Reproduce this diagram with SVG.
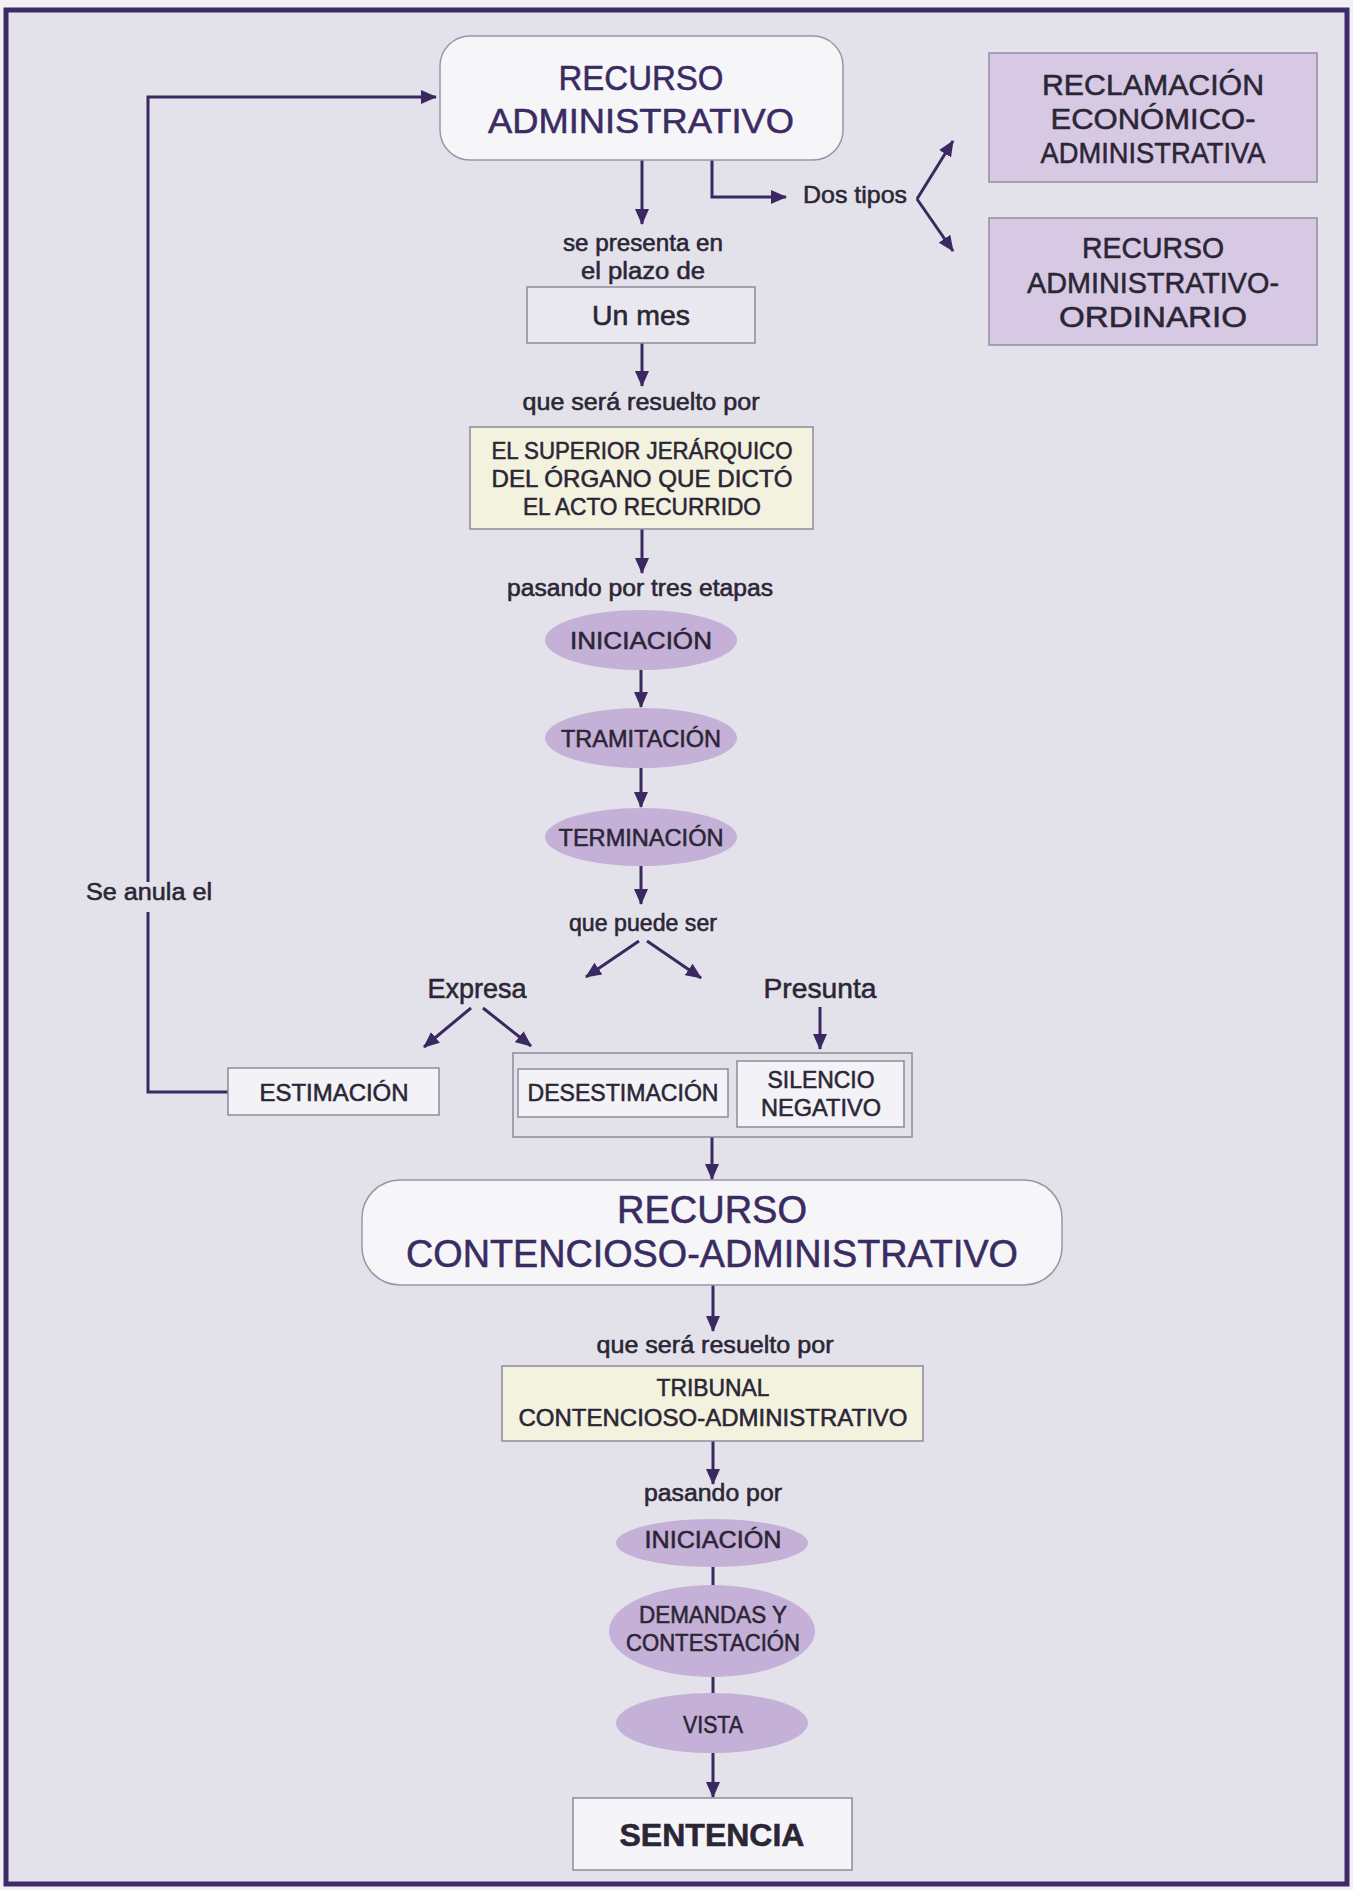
<svg xmlns="http://www.w3.org/2000/svg" width="1353" height="1890" viewBox="0 0 1353 1890">
  <defs>
    <marker id="ah" viewBox="0 0 16 14" refX="15" refY="7" markerWidth="16" markerHeight="14" markerUnits="userSpaceOnUse" orient="auto">
      <path d="M0,0 L16,7 L0,14 z" fill="#3a2960"/>
    </marker>
    <style>
      .t { font-family: "Liberation Sans", Arial, sans-serif; fill: #2b2636; stroke: #2b2636; stroke-width: 0.55; text-anchor: middle; }
      .big { fill: #3a2b62; stroke: #3a2b62; font-size: 35px; }
      .lbl { font-size: 23px; }
      .cap { font-size: 24px; }
      .pt { font-size: 30px; }
      .pbox { fill: #d7c9e3; stroke: #958ba2; stroke-width: 1.5; }
      .wbox { fill: #f3f2f6; stroke: #8f8a99; stroke-width: 1.5; }
      .ybox { fill: #f3f2df; stroke: #8f8a99; stroke-width: 1.5; }
      .gbox { fill: none; stroke: #8f8a99; stroke-width: 1.5; }
      .ell { fill: #c5b0d7; }
      .ln { fill: none; stroke: #3a2960; stroke-width: 3; }
      .arr { fill: none; stroke: #3a2960; stroke-width: 3; marker-end: url(#ah); }
    </style>
  </defs>

  <!-- page and frame -->
  <rect x="0" y="0" width="1353" height="1890" fill="#f1f1f4"/>
  <rect x="6" y="10" width="1341" height="1874" fill="#e3e2ea" stroke="#3d2b69" stroke-width="5"/>

  <!-- connectors -->
  <g id="connectors">
    <!-- annulment loop back to the administrative appeal -->
    <path class="ln" d="M228,1092 H148 V912"/>
    <path class="arr" d="M148,882 V97 H436"/>
    <!-- two types -->
    <path class="arr" d="M712,160 V197 H786"/>
    <path class="arr" d="M917,199 L953,141"/>
    <path class="arr" d="M917,199 L953,251"/>
    <!-- main column -->
    <path class="arr" d="M642,160 V224"/>
    <path class="arr" d="M642,343 V386"/>
    <path class="arr" d="M642,529 V573"/>
    <path class="arr" d="M641,670 V707"/>
    <path class="arr" d="M641,768 V807"/>
    <path class="arr" d="M641,866 V904"/>
    <path class="arr" d="M639,941 L586,977"/>
    <path class="arr" d="M647,941 L701,978"/>
    <path class="arr" d="M471,1008 L424,1047"/>
    <path class="arr" d="M483,1008 L531,1046"/>
    <path class="arr" d="M820,1007 V1049"/>
    <path class="arr" d="M712,1137 V1179"/>
    <path class="arr" d="M713,1285 V1331"/>
    <path class="arr" d="M713,1441 V1484"/>
    <path class="ln" d="M713,1567 V1586"/>
    <path class="ln" d="M713,1677 V1694"/>
    <path class="arr" d="M713,1753 V1797"/>
  </g>

  <!-- labels on connectors -->
  <g id="labels">
    <text class="t lbl" x="855" y="203" style="font-size:24px" textLength="104" lengthAdjust="spacingAndGlyphs">Dos tipos</text>
    <text class="t lbl" x="643" y="251" textLength="160" lengthAdjust="spacingAndGlyphs">se presenta en</text>
    <text class="t lbl" x="643" y="279" textLength="124" lengthAdjust="spacingAndGlyphs">el plazo de</text>
    <text class="t lbl" x="641" y="410" textLength="237" lengthAdjust="spacingAndGlyphs">que será resuelto por</text>
    <text class="t lbl" x="640" y="596" textLength="266" lengthAdjust="spacingAndGlyphs">pasando por tres etapas</text>
    <text class="t lbl" x="643" y="931" textLength="148" lengthAdjust="spacingAndGlyphs">que puede ser</text>
    <text class="t lbl" x="477" y="998" style="font-size:28px" textLength="99" lengthAdjust="spacingAndGlyphs">Expresa</text>
    <text class="t lbl" x="820" y="998" style="font-size:28px" textLength="113" lengthAdjust="spacingAndGlyphs">Presunta</text>
    <text class="t lbl" x="149" y="900" textLength="126" lengthAdjust="spacingAndGlyphs">Se anula el</text>
    <text class="t lbl" x="715" y="1353" textLength="237" lengthAdjust="spacingAndGlyphs">que será resuelto por</text>
    <text class="t lbl" x="713" y="1501" textLength="138" lengthAdjust="spacingAndGlyphs">pasando por</text>
  </g>

  <g id="recurso-administrativo">
    <rect x="440" y="36" width="403" height="124" rx="30" fill="#f6f6f9" stroke="#9a95a6" stroke-width="1.5"/>
    <text class="t big" x="641" y="90" textLength="165" lengthAdjust="spacingAndGlyphs">RECURSO</text>
    <text class="t big" x="641" y="133" textLength="306" lengthAdjust="spacingAndGlyphs">ADMINISTRATIVO</text>
  </g>

  <g id="reclamacion-economico-administrativa">
    <rect class="pbox" x="989" y="53" width="328" height="129"/>
    <text class="t pt" x="1153" y="95" textLength="222" lengthAdjust="spacingAndGlyphs">RECLAMACIÓN</text>
    <text class="t pt" x="1153" y="129" textLength="205" lengthAdjust="spacingAndGlyphs">ECONÓMICO-</text>
    <text class="t pt" x="1153" y="163" textLength="225" lengthAdjust="spacingAndGlyphs">ADMINISTRATIVA</text>
  </g>

  <g id="recurso-administrativo-ordinario">
    <rect class="pbox" x="989" y="218" width="328" height="127"/>
    <text class="t pt" x="1153" y="258" textLength="142" lengthAdjust="spacingAndGlyphs">RECURSO</text>
    <text class="t pt" x="1153" y="293" textLength="252" lengthAdjust="spacingAndGlyphs">ADMINISTRATIVO-</text>
    <text class="t pt" x="1153" y="327" textLength="188" lengthAdjust="spacingAndGlyphs">ORDINARIO</text>
  </g>

  <g id="un-mes">
    <rect x="527" y="287" width="228" height="56" fill="#eae8ef" stroke="#8f8a99" stroke-width="1.5"/>
    <text class="t" x="641" y="325" font-size="28" textLength="98" lengthAdjust="spacingAndGlyphs">Un mes</text>
  </g>

  <g id="superior-jerarquico">
    <rect class="ybox" x="470" y="427" width="343" height="102"/>
    <text class="t cap" x="642" y="459" textLength="301" lengthAdjust="spacingAndGlyphs">EL SUPERIOR JERÁRQUICO</text>
    <text class="t cap" x="642" y="487" textLength="301" lengthAdjust="spacingAndGlyphs">DEL ÓRGANO QUE DICTÓ</text>
    <text class="t cap" x="642" y="515" textLength="238" lengthAdjust="spacingAndGlyphs">EL ACTO RECURRIDO</text>
  </g>

  <g id="iniciacion-1">
    <ellipse class="ell" cx="641" cy="640" rx="96" ry="30"/>
    <text class="t cap" x="641" y="649" textLength="142" lengthAdjust="spacingAndGlyphs">INICIACIÓN</text>
  </g>
  <g id="tramitacion">
    <ellipse class="ell" cx="641" cy="738" rx="96" ry="30"/>
    <text class="t cap" x="641" y="747" textLength="160" lengthAdjust="spacingAndGlyphs">TRAMITACIÓN</text>
  </g>
  <g id="terminacion">
    <ellipse class="ell" cx="641" cy="837" rx="96" ry="29"/>
    <text class="t cap" x="641" y="846" textLength="165" lengthAdjust="spacingAndGlyphs">TERMINACIÓN</text>
  </g>

  <g id="estimacion">
    <rect class="wbox" x="228" y="1068" width="211" height="47"/>
    <text class="t cap" x="334" y="1101" textLength="149" lengthAdjust="spacingAndGlyphs">ESTIMACIÓN</text>
  </g>

  <g id="desestimacion-silencio">
    <rect class="gbox" x="513" y="1053" width="399" height="84"/>
  </g>
  <g id="desestimacion">
    <rect class="wbox" x="518" y="1069" width="210" height="48"/>
    <text class="t cap" x="623" y="1101" textLength="191" lengthAdjust="spacingAndGlyphs">DESESTIMACIÓN</text>
  </g>
  <g id="silencio-negativo">
    <rect class="wbox" x="737" y="1061" width="167" height="66"/>
    <text class="t cap" x="821" y="1088" textLength="107" lengthAdjust="spacingAndGlyphs">SILENCIO</text>
    <text class="t cap" x="821" y="1116" textLength="120" lengthAdjust="spacingAndGlyphs">NEGATIVO</text>
  </g>

  <g id="recurso-contencioso">
    <rect x="362" y="1180" width="700" height="105" rx="38" fill="#f6f6f9" stroke="#9a95a6" stroke-width="1.5"/>
    <text class="t big" x="712" y="1223" style="font-size:38px" textLength="190" lengthAdjust="spacingAndGlyphs">RECURSO</text>
    <text class="t big" x="712" y="1267" style="font-size:38px" textLength="612" lengthAdjust="spacingAndGlyphs">CONTENCIOSO-ADMINISTRATIVO</text>
  </g>

  <g id="tribunal">
    <rect class="ybox" x="502" y="1366" width="421" height="75"/>
    <text class="t cap" x="713" y="1396" textLength="113" lengthAdjust="spacingAndGlyphs">TRIBUNAL</text>
    <text class="t cap" x="713" y="1426" textLength="389" lengthAdjust="spacingAndGlyphs">CONTENCIOSO-ADMINISTRATIVO</text>
  </g>

  <g id="iniciacion-2">
    <ellipse class="ell" cx="712" cy="1543" rx="96" ry="24"/>
    <text class="t cap" x="713" y="1548" textLength="137" lengthAdjust="spacingAndGlyphs">INICIACIÓN</text>
  </g>
  <g id="demandas">
    <ellipse class="ell" cx="712" cy="1631" rx="103" ry="46"/>
    <text class="t cap" x="713" y="1623" textLength="148" lengthAdjust="spacingAndGlyphs">DEMANDAS Y</text>
    <text class="t cap" x="713" y="1651" textLength="174" lengthAdjust="spacingAndGlyphs">CONTESTACIÓN</text>
  </g>
  <g id="vista">
    <ellipse class="ell" cx="712" cy="1723" rx="96" ry="30"/>
    <text class="t cap" x="713" y="1733" textLength="60" lengthAdjust="spacingAndGlyphs">VISTA</text>
  </g>

  <g id="sentencia">
    <rect x="573" y="1798" width="279" height="72" fill="#f5f4f8" stroke="#8f8a99" stroke-width="1.5"/>
    <text class="t" x="712" y="1846" font-size="31" font-weight="bold" textLength="185" lengthAdjust="spacingAndGlyphs">SENTENCIA</text>
  </g>
</svg>
